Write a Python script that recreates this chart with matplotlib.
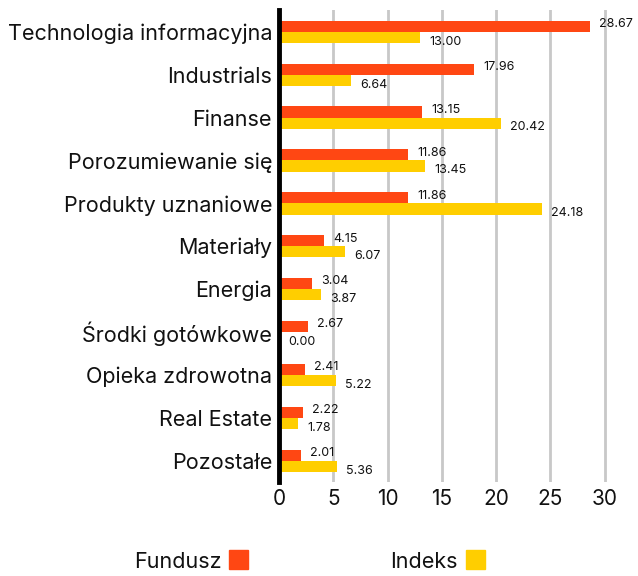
import matplotlib.pyplot as plt
from matplotlib.patches import Rectangle
import numpy as np

plt.rcParams['font.family'] = ['Inter', 'DejaVu Sans']

sectors = ["Technologia informacyjna", "Industrials", "Finanse", "Porozumiewanie się",
           "Produkty uznaniowe", "Materiały", "Energia", "Środki gotówkowe",
           "Opieka zdrowotna", "Real Estate", "Pozostałe"]
fundusz = [28.67, 17.96, 13.15, 11.86, 11.86, 4.15, 3.04, 2.67, 2.41, 2.22, 2.01]
indeks = [13.00, 6.64, 20.42, 13.45, 24.18, 6.07, 3.87, 0.00, 5.22, 1.78, 5.36]
xticks = [0, 5, 10, 15, 20, 25, 30]

c_fund = "#FF4713"
c_idx = "#FFCE00"

fig = plt.figure(figsize=(6.38, 5.76), dpi=100)
ax = fig.add_axes([0.4373, 0.163, 0.519, 0.819])

y = np.arange(len(sectors))
h = 0.26
ax.barh(y - h / 2, fundusz, height=h, color=c_fund, zorder=3)
ax.barh(y + h / 2, indeks, height=h, color=c_idx, zorder=3)

for yi, v in zip(y, fundusz):
    ax.text(v + 0.85, yi - h / 2 - 0.05, f"{v:.2f}", va="center", ha="left", fontsize=9, color="#111111")
for yi, v in zip(y, indeks):
    ax.text(v + 0.85, yi + h / 2 + 0.1, f"{v:.2f}", va="center", ha="left", fontsize=9, color="#111111")

ax.set_xlim(0, 30.5)
ax.set_ylim(len(sectors) - 0.5, -0.5)
ax.set_yticks(y)
ax.set_yticklabels(sectors, fontsize=15.5, color="#111111")
ax.set_xticks(xticks)
ax.set_xticklabels([str(t) for t in xticks], fontsize=15, color="#111111")
ax.tick_params(axis="both", length=0)
ax.tick_params(axis="y", pad=5)
ax.tick_params(axis="x", pad=5)

for t in xticks[1:]:
    ax.axvline(t, color="#c8c8c8", lw=2, zorder=1)

for s in ["top", "right", "bottom"]:
    ax.spines[s].set_visible(False)
ax.spines["left"].set_linewidth(3.5)
ax.spines["left"].set_color("black")
ax.spines["left"].set_zorder(4)

# legend
fig.text(222 / 638, 1 - 562 / 576, "Fundusz", ha="right", va="center", fontsize=15.5, color="#111111")
fig.add_artist(Rectangle((229 / 638, 1 - 569 / 576), 19 / 638, 19 / 576, color=c_fund, transform=fig.transFigure))
fig.text(458 / 638, 1 - 562 / 576, "Indeks", ha="right", va="center", fontsize=15.5, color="#111111")
fig.add_artist(Rectangle((466 / 638, 1 - 569 / 576), 19 / 638, 19 / 576, color=c_idx, transform=fig.transFigure))

fig.savefig("out.png", dpi=100)
